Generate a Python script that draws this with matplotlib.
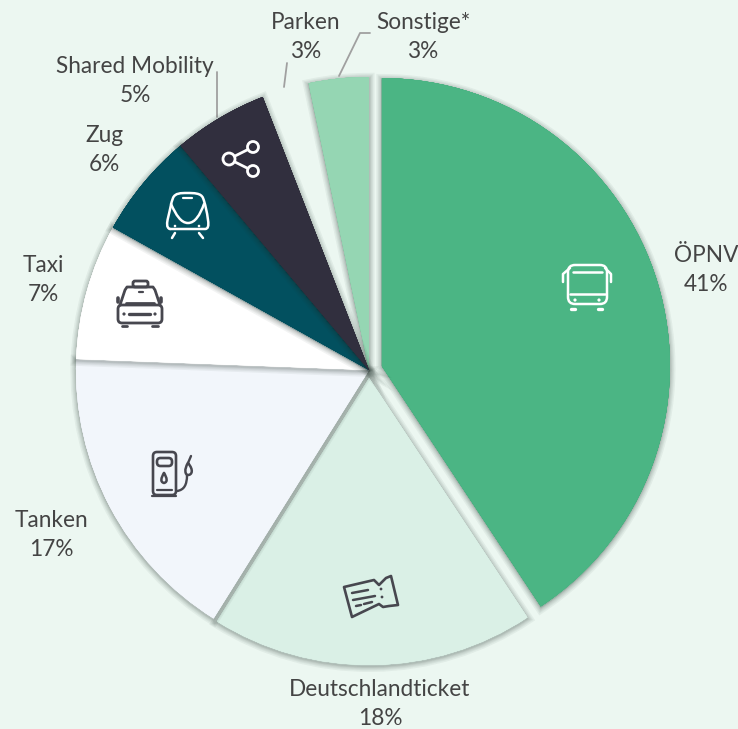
import matplotlib
matplotlib.use('Agg')
import matplotlib.pyplot as plt
import matplotlib.patheffects as pe
from matplotlib.patches import Circle, FancyBboxPatch, PathPatch, Polygon
from matplotlib.path import Path

categories = ['ÖPNV', 'Deutschlandticket', 'Tanken', 'Taxi', 'Zug',
              'Shared Mobility', 'Parken', 'Sonstige*']
# slice sizes as measured from the wedge angles, labels show them rounded
values = [40.7, 18.2, 16.7, 7.49, 5.8, 5.2, 2.61, 3.3]
colors = ['#4BB584', '#DAF0E6', '#F2F6FB', '#FFFFFF', '#02505F',
          '#312F3E', '#ECF7F1', '#95D6B3']
explode = [13.5, 8, 0, 0, 0, 0, 0, 0]

label_pos = [(706, 270), (380, 704), (51, 535), (43, 280), (104, 150),
             (135, 81), (306, 37), (423, 37)]

BG = '#ECF7F1'
W, H = 738, 729
DARK = '#47474F'
WHITE = '#FFFFFF'

plt.rcParams['font.family'] = ['Lato', 'DejaVu Sans']

fig = plt.figure(figsize=(W / 100, H / 100), dpi=100, facecolor=BG)
ax = fig.add_axes([0, 0, 1, 1])

wedges, _ = ax.pie(values, colors=colors, explode=explode, startangle=90,
                   counterclock=False, radius=293, center=(369, H - 370),
                   wedgeprops={'linewidth': 0})
ax.set_xlim(0, W)
ax.set_ylim(0, H)
ax.set_aspect('equal')
ax.axis('off')

# the two pulled out slices are drawn a bit smaller in the original
wedges[0].set_radius(288)
wedges[1].set_radius(287)

# soft shadow round each wedge, built from wider and wider faint strokes
shadow = [pe.withStroke(linewidth=w, foreground='#20302A', alpha=0.055, offset=(0, -1))
          for w in (8, 6, 4.5, 3, 2, 1)] + [pe.Normal()]
for i, wedge in enumerate(wedges):
    if categories[i] != 'Parken':
        wedge.set_path_effects(shadow)
wedges[0].set_zorder(2)
wedges[1].set_zorder(2.1)
wedges[2].set_zorder(2.2)
wedges[3].set_zorder(2.3)
wedges[4].set_zorder(2.4)
wedges[5].set_zorder(2.5)
wedges[6].set_zorder(1.5)
wedges[7].set_zorder(2)

for name, val, (x, y) in zip(categories, values, label_pos):
    ax.text(x, H - y, f'{name}\n{val:.0f}%', ha='center', va='center', fontsize=16.3,
            color='#444444', linespacing=1.5, zorder=5)


def p(pts):
    return [(x, H - y) for x, y in pts]


def line(pts, color, lw=1.8, z=4):
    ax.plot(*zip(*p(pts)), color=color, lw=lw, solid_capstyle='round',
            solid_joinstyle='round', zorder=z)


def box(x0, y0, x1, y1, r, color, lw=1.8, fill='none'):
    ax.add_patch(FancyBboxPatch((x0, H - y1), x1 - x0, y1 - y0,
                                boxstyle=f'round,pad=0,rounding_size={r}',
                                fc=fill, ec=color, lw=lw, zorder=4))


def dot(x, y, r, color, lw=0, fill=None):
    ax.add_patch(Circle((x, H - y), r, fc=fill or color, ec=color, lw=lw, zorder=4))


def curve(verts, codes, color, lw=1.8, fill='none'):
    ax.add_patch(PathPatch(Path(p(verts), codes), fc=fill, ec=color, lw=lw, zorder=4,
                           joinstyle='round', capstyle='round'))


# leader lines
line([(339, 76), (360, 33), (370, 33)], '#A0A0A0', 1.3)
line([(287, 63), (284, 87)], '#A0A0A0', 1.3)
line([(217, 72), (217, 117)], '#A0A0A0', 1.3, z=1.9)

# bus
box(568, 265, 607, 304, 7, WHITE)
line([(563, 282), (563, 274), (570, 268)], WHITE)
line([(611, 282), (611, 274), (605, 268)], WHITE)
line([(573, 272), (602, 272)], WHITE)
line([(570, 294), (605, 294)], WHITE)
dot(575, 300, 1.6, WHITE)
dot(599, 300, 1.6, WHITE)
line([(571, 309), (575, 309)], WHITE, 2.4)
line([(598, 309), (602, 309)], WHITE, 2.4)

# train
M, L, C = Path.MOVETO, Path.LINETO, Path.CURVE4
curve([(170, 229), (166, 228), (167, 222), (168, 218),
       (170, 210), (171, 203), (173, 198),
       (175, 193), (181, 193), (187, 193),
       (194, 193), (201, 193), (203, 198),
       (205, 203), (207, 212), (208, 220),
       (209, 226), (208, 229), (205, 229), (170, 229)],
      [M, C, C, C, C, C, C, C, C, C, C, C, C, C, C, C, C, C, C, L], WHITE)
curve([(171, 204), (176, 215), (181, 223), (188, 223),
       (195, 223), (200, 215), (204, 204)], [M, C, C, C, C, C, C], WHITE)
line([(183, 198), (192, 198)], WHITE, 1.6)
dot(175, 226, 1.3, WHITE)
dot(199, 226, 1.3, WHITE)
line([(175, 233), (172, 238)], WHITE)
line([(199, 233), (203, 238)], WHITE)

# share
line([(229, 159), (253, 147)], WHITE, 2)
line([(229, 159), (253, 171)], WHITE, 2)
dot(253, 147, 5.5, WHITE, 2, '#312F3E')
dot(229, 159, 6, WHITE, 2, '#312F3E')
dot(253, 171, 5.5, WHITE, 2, '#312F3E')

# taxi
box(133, 281, 148, 287, 2, DARK, 2)
line([(120, 305), (125, 290), (127, 287), (153, 287), (155, 290), (160, 305)], DARK, 2)
box(118, 305, 162, 323, 4, DARK, 2)
line([(126, 303), (154, 303)], DARK, 2)
line([(129, 314), (150, 314)], DARK, 2.4)
line([(139, 292), (143, 292)], DARK, 1.6)
dot(124, 314, 1.6, DARK)
dot(155, 314, 1.6, DARK)
line([(118, 298), (118, 302)], DARK, 2.6)
line([(161, 298), (161, 302)], DARK, 2.6)
line([(122, 325.5), (127, 325.5)], DARK, 2)
line([(152, 325.5), (158, 325.5)], DARK, 2)

# fuel pump
box(153, 452, 176, 495, 4, DARK, 1.9)
box(157, 458, 172, 466, 3.5, DARK, 1.9)
line([(157, 490), (172, 490)], DARK, 1.6)
line([(152, 496), (176, 496)], DARK, 1.6)
curve([(164, 473), (161, 478), (160, 482), (164, 483),
       (168, 482), (167, 478), (164, 473)], [M, C, C, C, C, C, C], DARK, 1.8)
curve([(177, 491), (184, 490), (187, 485), (187, 475)], [M, C, C, C], DARK, 1.7)
curve([(188, 463), (184, 469), (185, 475), (188, 475),
       (192, 475), (194, 470), (188, 463)], [M, C, C, C, C, C, C], DARK, 1.8)
line([(191, 456), (188, 463)], DARK, 1.7)

# ticket
ax.add_patch(Polygon(p([(344, 587), (374, 580), (379, 585), (386, 578), (391, 576),
                        (398, 605), (389, 606), (383, 607), (379, 604), (352, 617)]),
                     fc='none', ec=DARK, lw=1.9, joinstyle='round', zorder=4))
line([(352, 593), (368, 590)], DARK, 1.8)
line([(353, 600), (375, 596)], DARK, 1.8)
line([(356, 606), (361, 605)], DARK, 1.8)
line([(364, 604), (372, 602)], DARK, 1.8)
dot(381, 589, 1.4, DARK)
dot(382, 597, 1.4, DARK)

fig.savefig('out.png', dpi=100, facecolor=BG)
